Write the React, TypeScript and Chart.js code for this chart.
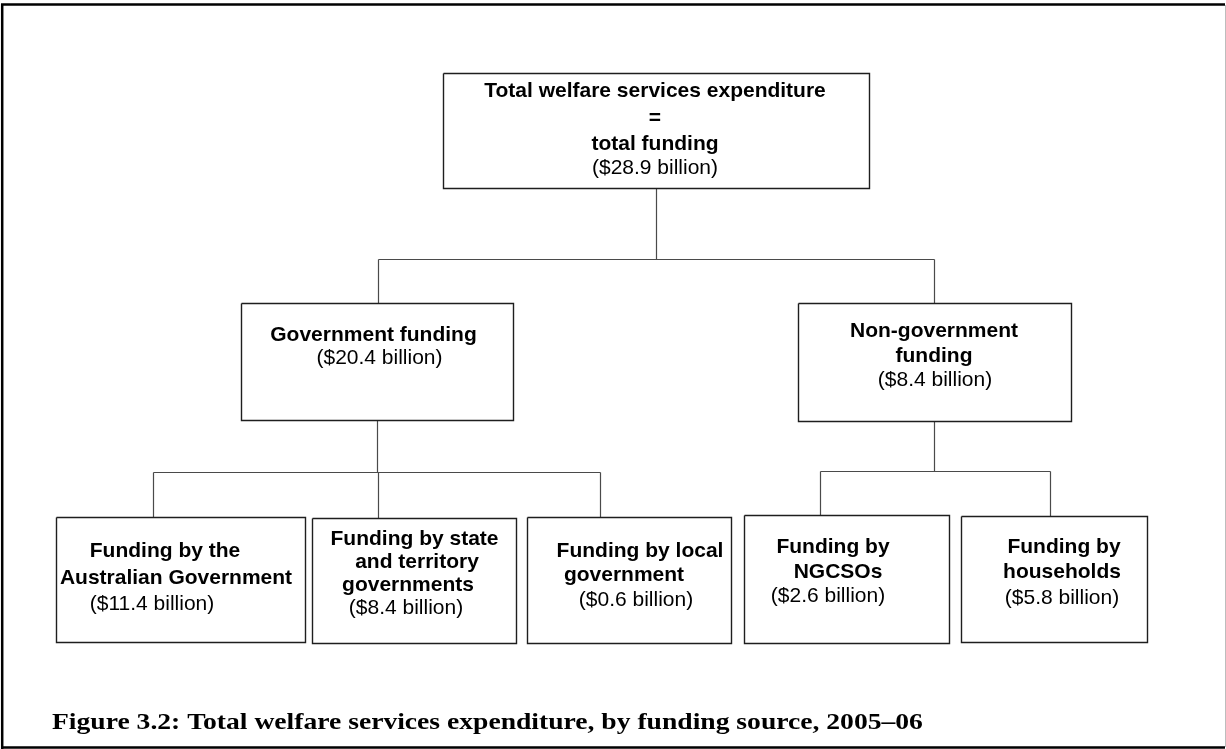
import React, { useEffect, useRef } from "react";
import { Chart, registerables } from "chart.js";

Chart.register(...registerables);

// ---- data ----
const nodeNames: string[][] = [
  ["Total welfare services expenditure", "=", "total funding"],
  ["Government funding"],
  ["Non-government", "funding"],
  ["Funding by the", "Australian Government"],
  ["Funding by state", "and territory", "governments"],
  ["Funding by local", "government"],
  ["Funding by", "NGCSOs"],
  ["Funding by", "households"],
];
const nodeAmounts: number[] = [28.9, 20.4, 8.4, 11.4, 8.4, 0.6, 2.6, 5.8];
const nodeParents: number[] = [-1, 0, 0, 1, 1, 1, 2, 2];
const captionText = "Figure 3.2: Total welfare services expenditure, by funding source, 2005\u201306";

// ---- layout (diagram units = scale units) ----
const boxRects: number[][] = [
  [443.5, 73.5, 869.5, 188.5],
  [241.5, 303.5, 513.5, 420.5],
  [798.5, 303.5, 1071.5, 421.5],
  [56.5, 517.5, 305.5, 642.5],
  [312.5, 518.5, 516.5, 643.5],
  [527.5, 517.5, 731.5, 643.5],
  [744.5, 515.5, 949.5, 643.5],
  [961.5, 516.5, 1147.5, 642.5],
];
const lineBaselines: number[][] = [
  [97, 124, 150, 174],
  [341, 364],
  [337, 362, 386],
  [557, 584, 610],
  [545, 568, 591, 614],
  [557, 581, 606],
  [553, 578, 602],
  [553, 578, 604],
];
const lineCenters: number[][] = [
  [655, 655, 655, 655],
  [373.5, 379.5],
  [934, 934, 935],
  [165, 176, 152],
  [414.5, 417, 408, 406],
  [640, 624, 636],
  [833, 838, 828],
  [1064, 1062, 1062],
];
const stemX: number[] = [656.5, 377.5, 934.5, 0, 0, 0, 0, 0];
const busY: number[] = [259.5, 472.5, 471.5, 0, 0, 0, 0, 0];
const dropX: number[] = [0, 378.5, 934.5, 153.5, 378.5, 600.5, 820.5, 1050.5];

const W = 1226;
const H = 749;

export default function App() {
  const ref = useRef<HTMLCanvasElement | null>(null);

  useEffect(() => {
    const canvas = ref.current;
    if (!canvas) return;

    const datasets: any[] = [];
    // box outlines
    boxRects.forEach((r) => {
      datasets.push({
        data: [
          { x: r[0], y: r[1] },
          { x: r[2], y: r[1] },
          { x: r[2], y: r[3] },
          { x: r[0], y: r[3] },
          { x: r[0], y: r[1] },
        ],
        showLine: true,
        borderColor: "#1e1e1e",
        borderWidth: 1.4,
        pointRadius: 0,
        fill: false,
        tension: 0,
        clip: false,
      });
    });
    // connectors
    nodeParents.forEach((_, p) => {
      const kids = nodeParents.map((pp, i) => (pp === p ? i : -1)).filter((i) => i >= 0);
      if (!kids.length) return;
      const line = (pts: { x: number; y: number }[]) =>
        datasets.push({
          data: pts,
          showLine: true,
          borderColor: "#4a4a4a",
          borderWidth: 1.2,
          pointRadius: 0,
          fill: false,
          tension: 0,
          clip: false,
        });
      line([
        { x: stemX[p], y: boxRects[p][3] },
        { x: stemX[p], y: busY[p] },
      ]);
      const xs = kids.map((k) => dropX[k]);
      line([
        { x: Math.min(...xs), y: busY[p] },
        { x: Math.max(...xs), y: busY[p] },
      ]);
      kids.forEach((k) =>
        line([
          { x: dropX[k], y: busY[p] },
          { x: dropX[k], y: boxRects[k][1] },
        ])
      );
    });

    const textPlugin = {
      id: "treeText",
      afterDatasetsDraw(chart: any) {
        const ctx = chart.ctx;
        const xs = chart.scales.x;
        const ys = chart.scales.y;
        ctx.save();
        // frame
        ctx.strokeStyle = "#000";
        ctx.lineWidth = 2.5;
        ctx.beginPath();
        ctx.moveTo(xs.getPixelForValue(1), ys.getPixelForValue(4.5));
        ctx.lineTo(xs.getPixelForValue(1225), ys.getPixelForValue(4.5));
        ctx.moveTo(xs.getPixelForValue(2.2), ys.getPixelForValue(3.5));
        ctx.lineTo(xs.getPixelForValue(2.2), ys.getPixelForValue(749));
        ctx.moveTo(xs.getPixelForValue(1), ys.getPixelForValue(747.5));
        ctx.lineTo(xs.getPixelForValue(1225), ys.getPixelForValue(747.5));
        ctx.stroke();
        ctx.strokeStyle = "#bdbdbd";
        ctx.lineWidth = 1;
        ctx.beginPath();
        ctx.moveTo(xs.getPixelForValue(1225.5), ys.getPixelForValue(5));
        ctx.lineTo(xs.getPixelForValue(1225.5), ys.getPixelForValue(747));
        ctx.stroke();

        // node texts
        ctx.fillStyle = "#000";
        ctx.textAlign = "center";
        ctx.textBaseline = "alphabetic";
        nodeNames.forEach((names, i) => {
          const lines = [...names, `($${nodeAmounts[i].toFixed(1)} billion)`];
          lines.forEach((t, j) => {
            const bold = j < names.length;
            ctx.font = `${bold ? "bold " : ""}21px "Liberation Sans", Arial, sans-serif`;
            ctx.fillText(
              t,
              xs.getPixelForValue(lineCenters[i][j]),
              ys.getPixelForValue(lineBaselines[i][j])
            );
          });
        });

        // caption (book-style serif, slightly widened)
        ctx.textAlign = "left";
        ctx.font = 'bold 24px "Liberation Serif", "Times New Roman", serif';
        ctx.save();
        ctx.translate(xs.getPixelForValue(52), ys.getPixelForValue(729));
        ctx.scale(1.15, 1);
        ctx.fillText(captionText, 0, 0);
        ctx.restore();
        ctx.restore();
      },
    };

    const chart = new Chart(canvas, {
      type: "scatter",
      data: { datasets },
      options: {
        animation: false,
        responsive: false,
        maintainAspectRatio: false,
        layout: { padding: 0 },
        plugins: { legend: { display: false }, tooltip: { enabled: false }, title: { display: false } },
        scales: {
          x: { type: "linear", min: 0, max: W, display: false },
          y: { type: "linear", min: 0, max: H, reverse: true, display: false },
        },
      },
      plugins: [textPlugin],
    });
    return () => chart.destroy();
  }, []);

  return (
    <div style={{ position: "absolute", left: 0, top: 0, width: W, height: H, background: "#fff" }}>
      <canvas ref={ref} width={W} height={H} style={{ display: "block", width: W, height: H }} />
    </div>
  );
}
